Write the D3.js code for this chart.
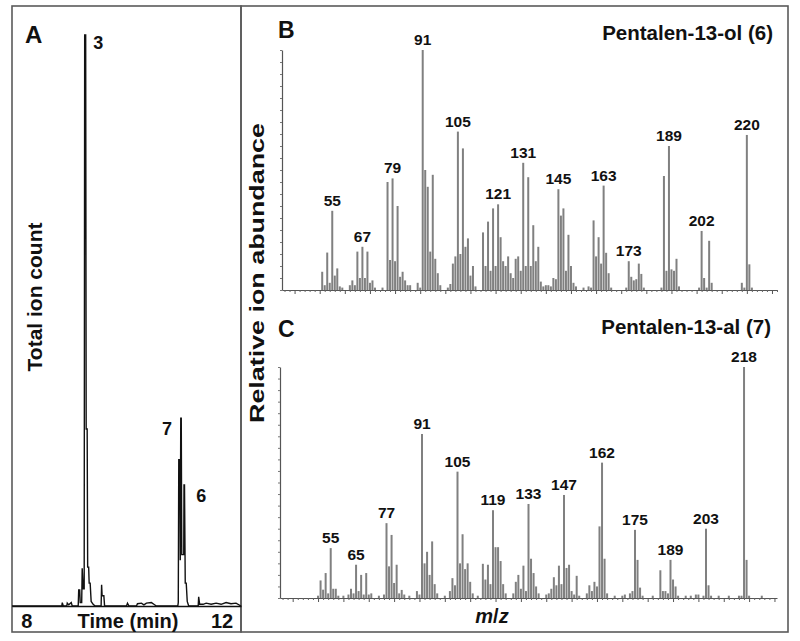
<!DOCTYPE html>
<html><head><meta charset="utf-8">
<script src="https://cdn.jsdelivr.net/npm/d3@7"></script>
<style>
body{margin:0;background:#fff}
svg{display:block}
text{font-family:"Liberation Sans",Arial,Helvetica,sans-serif;font-weight:bold;fill:#111}
</style>
</head><body><svg id="c" width="800" height="641"></svg>
<script>
// ---------- DATA ----------
// Panel A: total ion chromatogram (time in min, relative intensity)
const ticTime = [7.70,8.70,8.71,8.73,8.80,8.81,8.84,8.89,8.91,9.03,9.04,9.06,9.07,9.10,9.11,9.13,9.15,9.16,9.18,9.19,9.21,9.22,9.24,9.25,9.27,9.29,9.33,9.37,9.49,9.50,9.51,9.545,9.56,10.0,10.02,10.05,10.2,10.22,10.3,10.35,10.4,10.5,10.55,10.6,11.03,11.04,11.05,11.07,11.08,11.09,11.10,11.11,11.15,11.155,11.165,11.18,11.20,11.22,11.25,11.44,11.45,11.47,11.54,11.6,11.7,11.8,11.9,12.0,12.1,12.2,12.3];
const ticInt  = [0,0,0.6,0,0,0.5,0.2,0.6,0,0,2.8,2.8,0.6,0.6,6.6,3,3,100,100,31,31,6.8,6.8,4,4,0.8,0.3,0,0,3.7,1.8,1.8,0,0,0.5,0,0,0.4,0.5,0.2,0.5,0.6,0.3,0,0,0.6,25.6,25.6,8,32.9,32.9,9,9,21.2,21.2,4,4,0.8,0,0,1.6,0.3,0.3,0.5,0.3,0.5,0.3,0.6,0.4,0.5,0];
const peakLabels = ["3","7","6"];
const peakTimes  = [9.17,11.095,11.16];
const peakHeights= [100,32.9,21.2];
const timeTickLabels = ["8","12"];

// Panel B: Pentalen-13-ol (6)
const mzB = [51,52,53,54,55,56,57,58,59,62,63,64,65,66,67,68,69,70,71,72,75,77,78,79,80,81,82,83,84,85,86,89,90,91,92,93,94,95,96,97,98,101,102,103,104,105,106,107,108,109,110,111,112,115,116,117,118,119,120,121,122,123,124,125,126,127,128,129,130,131,132,133,134,135,136,137,138,139,140,141,142,143,144,145,146,147,148,149,150,151,152,155,157,158,159,160,161,162,163,164,165,166,172,173,174,175,176,177,178,179,186,187,188,189,190,191,192,193,201,202,203,204,205,206,218,219,220,221,222];
const abB = [7.6,2,15.6,3,33,6,9,1.5,1,2,4,2,16,5,18,5,16,3,4,1,1,45,12.5,46.5,12,35,5.5,7.6,4,2,2,3,1,100,50,43,16,48,13,7,2,1,2.5,11,14,66,15,59,18,21.5,6,10,1.5,24,10,28.5,8,34,10,35.7,22,12,10,14,7,5,13,14,8,53,10,47,10,27,12,18,3.5,1.5,2,2,1.5,5,4.5,42,31,34,8,23,10,3,1.5,1,1.5,1,29,14,22,11,43.5,15.5,7,1,1,12,5.5,4,4.5,11,6.7,1,1,47.5,8,60,8.6,8,13,1.5,1,24.6,5,1,20.5,3,3,1,64.6,10.7,1];
const labelsB = [55,67,79,91,105,121,131,145,163,173,189,202,220];

// Panel C: Pentalen-13-al (7)
const mzC = [50,51,52,53,54,55,56,57,58,60,62,63,64,65,66,67,68,69,70,71,74,76,77,78,79,80,81,82,83,84,86,89,90,91,92,93,94,95,96,97,100,102,103,104,105,106,107,108,109,110,111,113,115,116,117,118,119,120,121,122,123,124,127,128,129,130,131,132,133,134,135,136,137,140,141,142,143,144,145,146,147,148,149,150,151,152,153,156,157,158,159,160,161,162,163,164,167,170,171,173,174,175,176,177,178,182,185,186,187,188,189,190,191,192,195,197,199,200,202,203,204,205,208,212,216,217,218,219,220,225];
const abC = [1,7.6,3.6,10.8,2,21.6,4,4,1,1,1.5,4,2,14.4,3,10,1.5,10.8,1.5,2,1,1.5,32.4,13.7,27.3,6.5,14.4,2,3.5,1.5,1,3,1.5,71,15,20,10,24.5,6,2,1,3,8.6,5.5,54.7,15,27.6,12.5,15,7,2,1,14.8,8,14.4,6,38,22,22,16,6,2,2,7,10,4,14,3,40.7,17,10.8,5,2,1.5,2,4,9,5.5,14,6,44.6,13,14.4,3,1.5,9.6,1,2,5.5,3,7,5,31,58.6,17,2,1,1,1.5,2,3,29.5,16.5,4.5,1,1,12,3,3,2,16.5,8,5,1,1,1,1.5,1.5,1,30,5.5,1,1,1,1,1,100,16.5,1,1];
const labelsC = [55,65,77,91,105,119,133,147,162,175,189,203,218];

const titleB = "Pentalen-13-ol (6)";
const titleC = "Pentalen-13-al (7)";

// ---------- DRAW ----------
const svg = d3.select("#c");
const frameColor = "#5a5a5a";

svg.append("rect").attr("x",12).attr("y",6).attr("width",229).attr("height",626)
  .attr("fill","none").attr("stroke",frameColor).attr("stroke-width",1.6);
svg.append("rect").attr("x",241).attr("y",6).attr("width",547).attr("height",626)
  .attr("fill","none").attr("stroke",frameColor).attr("stroke-width",1.6);

// ---- Panel A ----
const xA = d3.scaleLinear().domain([7.7,12.3]).range([12,241]);
const yA = d3.scaleLinear().domain([0,100]).range([606,35]);
const gA = svg.append("g");
gA.append("g").attr("transform","translate(0,606)")
  .call(d3.axisBottom(xA).tickValues([]).tickSizeOuter(0))
  .call(g=>g.select(".domain").attr("stroke","#111").attr("stroke-width",1.6));
const ticData = ticTime.map((t,i)=>[t,ticInt[i]]);
gA.append("path").datum(ticData)
  .attr("d", d3.line().x(d=>xA(d[0])).y(d=>yA(d[1])))
  .attr("fill","none").attr("stroke","#111").attr("stroke-width",1.4).attr("stroke-linejoin","miter");
const peakDx = [8,-9,12], peakDy=[14,17,17], peakAnchor=["start","end","start"];
peakLabels.forEach((l,i)=>{
  gA.append("text").attr("x",xA(peakTimes[i])+peakDx[i]).attr("y",yA(peakHeights[i])+peakDy[i])
    .attr("text-anchor",peakAnchor[i]).attr("font-size",18).text(l);
});
gA.append("text").attr("x",25).attr("y",43).attr("font-size",24).text("A");
gA.append("text").attr("x",xA(8)).attr("y",628).attr("text-anchor","middle").attr("font-size",20).text(timeTickLabels[0]);
gA.append("text").attr("x",xA(12)-4).attr("y",628).attr("text-anchor","middle").attr("font-size",20).text(timeTickLabels[1]);
gA.append("text").attr("x",128).attr("y",628).attr("text-anchor","middle").attr("font-size",20).text("Time (min)");
gA.append("text").attr("transform","translate(42,297) rotate(-90)").attr("text-anchor","middle")
  .attr("font-size",21).text("Total ion count");

// ---- Spectra ----
function spectrum(mz, ab, labels, xr, xd, yr, title, letter, letterY, titleX, titleY){
  const x = d3.scaleLinear().domain(xd).range(xr);
  const y = d3.scaleLinear().domain([0,100]).range(yr);
  const g = svg.append("g");
  g.selectAll("rect.bar").data(mz.map((m,i)=>({m,v:ab[i]}))).join("rect")
    .attr("class","bar")
    .attr("x",d=>x(d.m)-1).attr("width",2)
    .attr("y",d=>y(d.v)).attr("height",d=>y(0)-y(d.v))
    .attr("fill","#808080");
  const majors = d3.range(40,xd[1]+1,10);
  const minors = d3.range(36,xd[1]+1,2).filter(v=>v%10!==0);
  g.append("g").attr("transform",`translate(0,${yr[0]})`)
    .call(d3.axisBottom(x).tickValues(minors).tickSize(2).tickFormat("").tickSizeOuter(0))
    .call(a=>{a.select(".domain").attr("stroke","#555").attr("stroke-width",1.2);a.selectAll(".tick line").attr("stroke","#666");});
  g.append("g").attr("transform",`translate(0,${yr[0]})`)
    .call(d3.axisBottom(x).tickValues(majors).tickSize(4).tickFormat("").tickSizeOuter(0))
    .call(a=>{a.select(".domain").remove();a.selectAll(".tick line").attr("stroke","#555");});
  g.append("g").attr("transform",`translate(${xr[0]},0)`)
    .call(d3.axisLeft(y).tickValues(d3.range(0,101,5)).tickSize(2).tickFormat("").tickSizeOuter(0))
    .call(a=>{a.select(".domain").attr("stroke","#555").attr("stroke-width",1.2);a.selectAll(".tick line").attr("stroke","#777");});
  labels.forEach(m=>{
    const i = mz.indexOf(m);
    g.append("text").attr("x",x(m)).attr("y",y(ab[i])-5).attr("text-anchor","middle")
      .attr("font-size",15.5).text(m);
  });
  g.append("text").attr("x",titleX).attr("y",titleY).attr("text-anchor","end").attr("font-size",20.5).text(title);
  g.append("text").attr("x",278).attr("y",letterY).attr("font-size",23).text(letter);
}
spectrum(mzB, abB, labelsB, [282,777], [35,232], [290,50], titleB, "B", 38, 773, 40);
spectrum(mzC, abC, labelsC, [280,777], [35,231], [598,367], titleC, "C", 337, 771, 334);

svg.append("text").attr("transform","translate(264,273) rotate(-90)").attr("text-anchor","middle")
  .attr("font-size",21).attr("textLength",300).attr("lengthAdjust","spacingAndGlyphs").text("Relative ion abundance");
const mzt = svg.append("text").attr("x",492).attr("y",623).attr("text-anchor","middle").attr("font-size",20);
mzt.append("tspan").attr("font-style","italic").text("m");
mzt.append("tspan").text("/");
mzt.append("tspan").attr("font-style","italic").text("z");
</script></body></html>
